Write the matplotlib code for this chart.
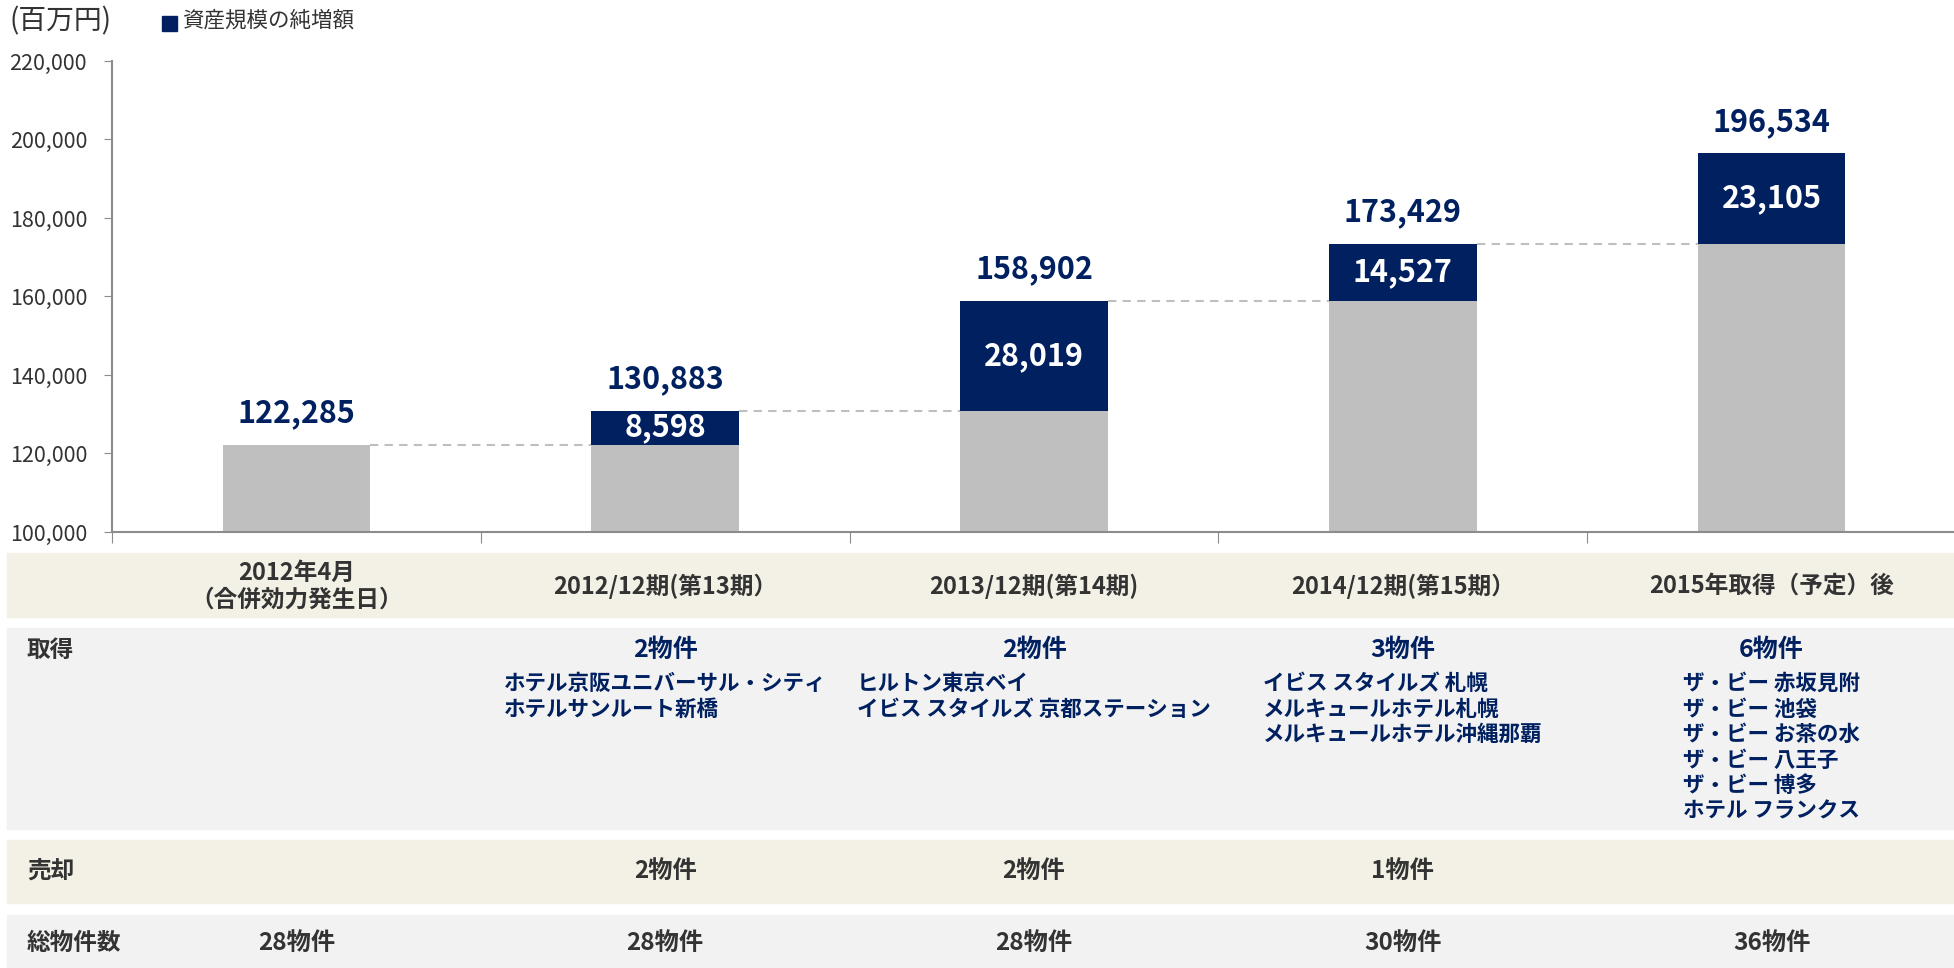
import matplotlib
matplotlib.use("Agg")
import matplotlib.pyplot as plt
import matplotlib.transforms as mtransforms
from matplotlib.patches import Rectangle
import numpy as np

plt.rcParams['font.family'] = ['Noto Sans CJK JP', 'DejaVu Sans']

# data
periods = ["2012年4月\n（合併効力発生日）", "2012/12期(第13期）", "2013/12期(第14期)",
           "2014/12期(第15期）", "2015年取得（予定）後"]
totals = [122285, 130883, 158902, 173429, 196534]
increase = [0, 8598, 28019, 14527, 23105]
acq_count = ["", "2物件", "2物件", "3物件", "6物件"]
acq_names = [
    [],
    ["ホテル京阪ユニバーサル・シティ", "ホテルサンルート新橋"],
    ["ヒルトン東京ベイ", "イビス スタイルズ 京都ステーション"],
    ["イビス スタイルズ 札幌", "メルキュールホテル札幌", "メルキュールホテル沖縄那覇"],
    ["ザ・ビー 赤坂見附", "ザ・ビー 池袋", "ザ・ビー お茶の水", "ザ・ビー 八王子",
     "ザ・ビー 博多", "ホテル フランクス"],
]
sold = ["", "2物件", "2物件", "1物件", ""]
total_props = ["28物件", "28物件", "28物件", "30物件", "36物件"]

navy = "#002060"
grey = "#bfbfbf"
dark = "#333333"

W, H = 1954, 968
fig = plt.figure(figsize=(W / 100, H / 100), dpi=100)

ax = fig.add_axes([112 / W, 1 - 532 / H, 1 - 110 / W, (532 - 61) / H])

x = np.arange(len(totals))
base = np.array(totals) - np.array(increase)
bw = 0.4
ax.bar(x, base - 100000, bottom=100000, width=bw, color=grey, zorder=2)
ax.bar(x, increase, bottom=base, width=bw, color=navy, zorder=2)

for i in range(len(totals)):
    ax.annotate(f"{totals[i]:,}", (x[i], totals[i]), xytext=(0, 11),
                textcoords="offset points", ha="center", va="bottom",
                fontsize=22, fontweight="bold", color=navy)
    if increase[i]:
        ax.text(x[i], base[i] + increase[i] / 2, f"{increase[i]:,}", ha="center",
                va="center", fontsize=22, fontweight="bold", color="white", zorder=3)
    if i < len(totals) - 1:
        ax.plot([x[i] + bw / 2, x[i + 1] - bw / 2], [totals[i], totals[i]],
                ls=(0, (4, 3)), color=grey, lw=1.5, zorder=1)

ax.set_xlim(-0.5, 4.5)
ax.set_ylim(100000, 220000)
ax.set_yticks(range(100000, 220001, 20000))
ax.yaxis.set_major_formatter(matplotlib.ticker.FuncFormatter(lambda v, p: f"{int(v):,}"))
ax.set_xticks(np.arange(-0.5, 4.6, 1))
ax.set_xticklabels([])
for s in ["top", "right"]:
    ax.spines[s].set_visible(False)
for s in ["left", "bottom"]:
    ax.spines[s].set_color("#8c8c8c")
    ax.spines[s].set_linewidth(1.5)
ax.tick_params(axis="y", length=6, color="#8c8c8c", labelsize=15.5, labelcolor=dark, pad=12)
ax.tick_params(axis="x", length=8, color="#8c8c8c")

# header texts
fig.text(10 / W, 1 - 21 / H, "(百万円)", fontsize=20, color=dark, va="center")
fig.patches.append(Rectangle((162 / W, 1 - 31 / H), 15 / W, 15 / H,
                             transform=fig.transFigure, color=navy))
fig.text(182 / W, 1 - 21 / H, "資産規模の純増額", fontsize=15.5, color=dark, va="center")

# table bands
bands = [(553, 617, "#f3f1e6"), (628, 829, "#f2f2f2"), (840, 903, "#f3f1e6"), (915, 968, "#f2f2f2")]
for top, bot, c in bands:
    fig.patches.append(Rectangle((7 / W, 1 - bot / H), 1, (bot - top) / H,
                                 transform=fig.transFigure, color=c, zorder=0))

tr = mtransforms.blended_transform_factory(ax.transData, fig.transFigure)

def fy(px):
    return 1 - px / H

for i in range(len(periods)):
    fig.text(x[i], fy(586), periods[i], transform=tr, ha="center", va="center",
             fontsize=17, fontweight="bold", color=dark, linespacing=1.15)
    fig.text(x[i], fy(650), acq_count[i], transform=tr, ha="center", va="center",
             fontsize=18, fontweight="bold", color=navy)
    names = acq_names[i]
    if names:
        fig.text(x[i], fy(673), "\n".join(names), transform=tr, ha="center",
                 ma="left", va="top", fontsize=15.5, fontweight="bold", color=navy,
                 linespacing=1.27)
    fig.text(x[i], fy(871), sold[i], transform=tr, ha="center", va="center",
             fontsize=17.5, fontweight="bold", color=dark)
    fig.text(x[i], fy(943), total_props[i], transform=tr, ha="center", va="center",
             fontsize=17.5, fontweight="bold", color=dark)

fig.text(27 / W, fy(650), "取得", ha="left", va="center", fontsize=17, fontweight="bold", color=dark)
fig.text(27 / W, fy(871), "売却", ha="left", va="center", fontsize=17, fontweight="bold", color=dark)
fig.text(27 / W, fy(943), "総物件数", ha="left", va="center", fontsize=17, fontweight="bold", color=dark)

fig.savefig("out.png", dpi=100)
